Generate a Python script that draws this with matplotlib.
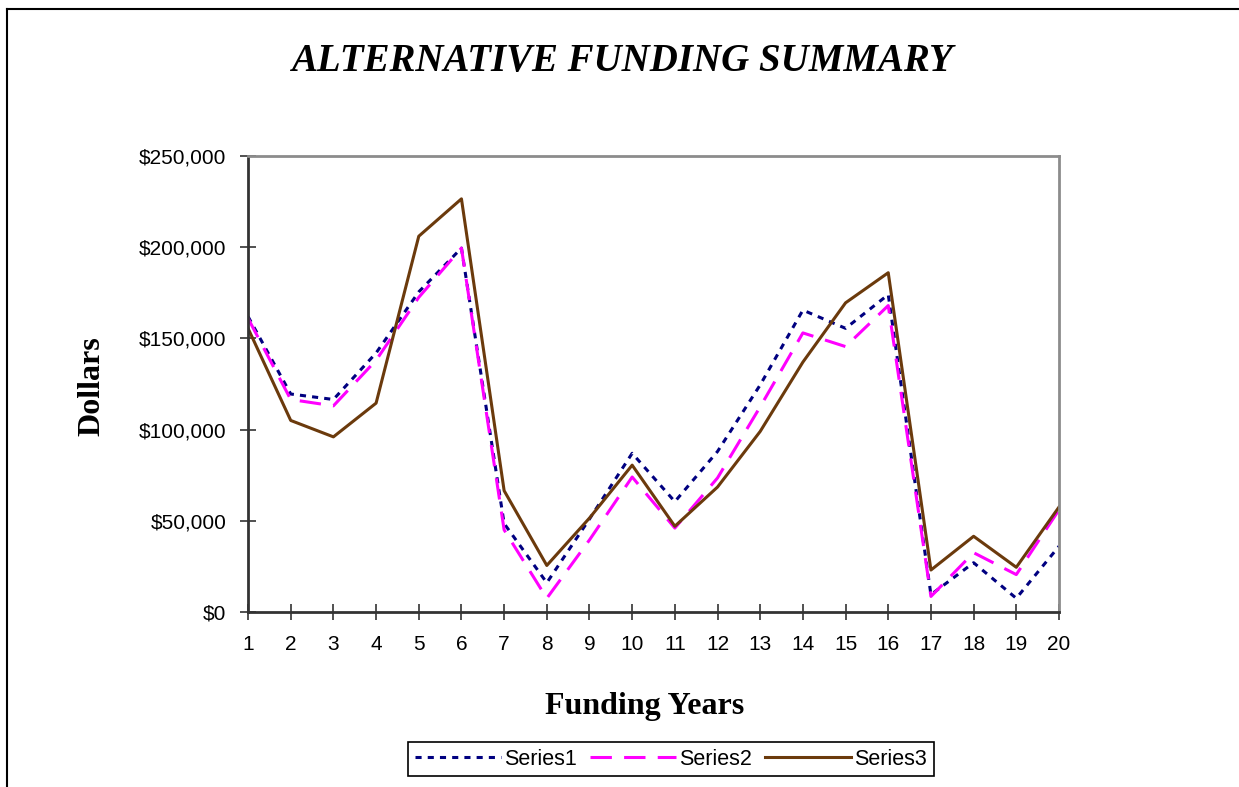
import matplotlib.pyplot as plt
from matplotlib.lines import Line2D
from matplotlib.ticker import FuncFormatter

years = list(range(1, 21))

series1 = [162000, 119500, 116500, 142000, 175500, 199500, 48500, 16000, 51000, 87000,
           60500, 88000, 124500, 165500, 155500, 174000, 9500, 27000, 7500, 36000]
series2 = [161000, 116500, 113000, 138000, 172500, 199500, 45000, 7500, 39500, 74000,
           46000, 73500, 112500, 153000, 145500, 168000, 8500, 32500, 20500, 56000]
series3 = [155500, 105000, 96000, 114500, 206000, 226500, 66500, 25500, 51500, 80500,
           47000, 68500, 99000, 137000, 169500, 186000, 23000, 41500, 24500, 57500]

fig = plt.figure(figsize=(12.39, 7.87), dpi=100)
ax = fig.add_axes([0.2002, 0.2224, 0.6545, 0.5794])

ax.plot(years, series1, color='#000080', lw=2.2, linestyle=(0, (2, 2)), label='Series1')
ax.plot(years, series2, color='#FF00FF', lw=2.2, linestyle=(0, (7, 4)), label='Series2')
ax.plot(years, series3, color='#6B3A0C', lw=2.2, label='Series3')

ax.set_xlim(1, 20)
ax.set_ylim(0, 250000)
ax.set_xticks(years)
ax.set_yticks(range(0, 250001, 50000))
ax.yaxis.set_major_formatter(FuncFormatter(lambda v, p: '${:,.0f}'.format(v)))

for s in ['top', 'right']:
    ax.spines[s].set_color('#8c8c8c')
    ax.spines[s].set_linewidth(2)
for s in ['left', 'bottom']:
    ax.spines[s].set_color('#333333')
    ax.spines[s].set_linewidth(2)
ax.tick_params(direction='inout', length=11, width=1.2, color='#333333',
               labelsize=15, labelfontfamily='Liberation Sans')
ax.tick_params(axis='x', pad=11)
ax.tick_params(axis='y', pad=10)

fig.text(0.502, 0.922, 'ALTERNATIVE FUNDING SUMMARY', ha='center', va='center',
         fontsize=28, fontweight='bold', fontstyle='italic', family='Liberation Serif')
fig.text(0.0745, 0.5095, 'Dollars', rotation=90, ha='center', va='center',
         fontsize=23, fontweight='bold', family='Liberation Serif')
fig.text(0.5206, 0.102, 'Funding Years', ha='center', va='center',
         fontsize=23, fontweight='bold', family='Liberation Serif')

leg = fig.legend(loc='center', bbox_to_anchor=(0.5416, 0.0355), ncol=3,
                 prop={'family': 'Liberation Sans', 'size': 15.5},
                 handlelength=4, handletextpad=0.15, columnspacing=0.6,
                 fancybox=False, edgecolor='black', framealpha=1,
                 borderpad=0.3)
leg.get_frame().set_linewidth(1.2)

# outer chart border (left and top edges visible)
fig.add_artist(Line2D([7 / 1239, 7 / 1239], [0, 1 - 9 / 787], color='black', lw=1.5,
                      transform=fig.transFigure))
fig.add_artist(Line2D([7 / 1239, 1], [1 - 9 / 787, 1 - 9 / 787], color='black', lw=1.5,
                      transform=fig.transFigure))

fig.savefig('out.png', dpi=100)
